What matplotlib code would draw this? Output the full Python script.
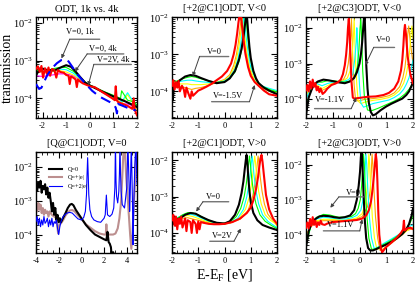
import matplotlib
matplotlib.use('Agg')
import matplotlib.pyplot as plt
import numpy as np
from matplotlib.ticker import MultipleLocator, LogLocator, NullFormatter

plt.rcParams['font.family'] = ['Liberation Serif', 'DejaVu Serif']
plt.rcParams['mathtext.fontset'] = 'custom'
plt.rcParams['mathtext.rm'] = 'Liberation Serif'
plt.rcParams['axes.unicode_minus'] = False

# xmgrace palette
GREEN = '#00ff00'
CYAN = '#00ffff'
YELLOW = '#ffff00'
ORANGE = '#ffa500'
MAGENTA = '#ff00ff'
ROSY = '#bc8f8f'

# ---------- panel 1: ODT, 1k vs. 4k  (values are log10 T) ----------
p1_blue_x = [-2.28, -2.15, -2.05, -1.95, -1.8, -1.6, -1.4, -1.2, -1.05, -0.9, -0.7, -0.5, -0.2, 0.1, 0.4, 0.7, 1.0, 1.1, 1.15, 1.2, 1.4, 1.7, 1.95]
p1_blue_y = [-3.62, -3.75, -3.72, -3.58, -3.38, -3.2, -3.07, -2.98, -2.96, -3.02, -3.2, -3.38, -3.6, -3.8, -3.95, -4.05, -4.15, -4.25, -4.4, -4.15, -4.2, -4.28, -4.32]
p1_black_x = [-2.28, -2.2, -2.0, -1.8, -1.5, -1.2, -1.0, -0.8, -0.6, -0.4, -0.2, 0.0, 0.5, 1.0, 1.5, 2.0]
p1_black_y = [-3.4, -3.3, -3.21, -3.25, -3.26, -3.17, -3.12, -3.16, -3.29, -3.44, -3.58, -3.66, -3.81, -3.95, -4.08, -4.23]
p1_red_x = [-2.28, -2.2, -2.12, -2.05, -1.98, -1.9, -1.82, -1.75, -1.68, -1.6, -1.5, -1.42, -1.35, -1.25, -1.1, -1.0, -0.9, -0.85, -0.8, -0.7, -0.6, -0.55, -0.5, -0.42, -0.3, -0.15, 0.0, 0.2, 0.45, 0.7, 0.95, 1.06, 1.1, 1.14, 1.2, 1.4, 1.6, 1.8, 1.86, 1.9, 2.0]
p1_red_y = [-3.22, -3.15, -3.3, -3.14, -3.45, -3.2, -3.35, -3.18, -3.4, -3.22, -3.25, -3.45, -3.25, -3.3, -3.32, -3.38, -3.4, -3.62, -3.42, -3.45, -3.5, -3.7, -3.5, -3.55, -3.6, -3.64, -3.68, -3.7, -3.8, -3.9, -4.0, -4.05, -3.68, -4.05, -4.1, -4.15, -4.2, -4.28, -4.0, -4.3, -4.45]
p1_mid_x = [-2.28, -2.0, -1.6, -1.3, -1.0, -0.7, -0.4, -0.1, 0.2, 0.6, 1.0, 1.3, 1.35, 1.6, 1.9, 2.0]
p1_green_y = [-3.25, -3.3, -3.22, -3.18, -3.18, -3.28, -3.45, -3.62, -3.7, -3.82, -3.92, -4.0, -3.8, -4.05, -4.1, -4.2]
p1_cyan_y = [-3.3, -3.25, -3.25, -3.22, -3.24, -3.33, -3.48, -3.62, -3.7, -3.84, -3.95, -4.05, -4.1, -3.85, -4.15, -4.25]
p1_yellow_y = [-3.25, -3.28, -3.28, -3.26, -3.3, -3.38, -3.5, -3.64, -3.72, -3.86, -3.98, -4.1, -4.15, -3.9, -4.2, -4.3]
p1_magenta_y = [-3.4, -3.42, -3.38, -3.35, -3.35, -3.4, -3.52, -3.64, -3.72, -3.87, -3.99, -4.1, -4.15, -4.15, -4.22, -4.3]

# ---------- panel 2: [+2@C1]ODT, V<0 ----------
p2_black_x = [-2.0, -1.97, -1.93, -1.85, -1.7, -1.5, -1.3, -1.1, -0.9, -0.6, -0.3, 0.0, 0.2, 0.4, 0.55, 0.65, 0.72, 0.77, 0.81, 0.84, 0.87, 0.9, 0.95, 1.0, 1.1, 1.2, 1.3, 1.5, 1.7, 2.0]
p2_black_y = [-3.95, -4.25, -3.9, -3.8, -3.7, -3.6, -3.56, -3.58, -3.64, -3.72, -3.78, -3.75, -3.65, -3.45, -3.15, -2.85, -2.55, -2.25, -2.05, -1.9, -2.1, -2.4, -2.8, -3.1, -3.45, -3.65, -3.78, -3.9, -3.98, -4.08]
p2_red_x = [-2.0, -1.95, -1.9, -1.85, -1.8, -1.75, -1.7, -1.62, -1.55, -1.5, -1.45, -1.38, -1.3, -1.25, -1.2, -1.1, -1.0, -0.9, -0.7, -0.5, -0.3, -0.1, 0.1, 0.25, 0.35, 0.42, 0.48, 0.53, 0.57, 0.6, 0.63, 0.67, 0.72, 0.8, 0.9, 1.0, 1.15, 1.3, 1.5, 1.7, 2.0]
p2_red_y = [-3.85, -3.7, -3.95, -3.75, -3.9, -3.72, -4.0, -3.85, -3.95, -4.15, -3.9, -4.05, -4.2, -4.0, -4.12, -4.05, -3.98, -3.95, -3.88, -3.8, -3.7, -3.6, -3.45, -3.25, -3.0, -2.75, -2.45, -2.15, -1.95, -1.85, -1.95, -2.25, -2.6, -3.0, -3.35, -3.58, -3.75, -3.85, -3.98, -4.08, -4.12]
p2_green_x = [-2.0, -1.8, -1.6, -1.4, -1.25, -1.1, -0.9, -0.6, -0.3, 0.0, 0.2, 0.4, 0.55, 0.65, 0.72, 0.77, 0.8, 0.83, 0.88, 0.95, 1.05, 1.2, 1.4, 1.7, 2.0]
p2_green_y = [-3.75, -3.72, -3.66, -3.62, -3.6, -3.62, -3.66, -3.72, -3.76, -3.74, -3.65, -3.48, -3.2, -2.9, -2.55, -2.2, -1.95, -2.1, -2.5, -2.95, -3.35, -3.68, -3.85, -3.95, -4.02]
p2_cyan_x = [-2.0, -1.8, -1.6, -1.4, -1.25, -1.1, -0.9, -0.6, -0.3, 0.0, 0.2, 0.4, 0.52, 0.6, 0.67, 0.71, 0.74, 0.77, 0.82, 0.9, 1.0, 1.2, 1.4, 1.7, 2.0]
p2_cyan_y = [-3.72, -3.75, -3.72, -3.7, -3.7, -3.72, -3.74, -3.76, -3.76, -3.72, -3.62, -3.4, -3.1, -2.8, -2.45, -2.15, -1.95, -2.1, -2.5, -2.95, -3.35, -3.7, -3.85, -3.92, -3.98]
p2_yellow_x = [-2.0, -1.8, -1.6, -1.4, -1.25, -1.1, -0.9, -0.6, -0.3, 0.0, 0.2, 0.38, 0.48, 0.56, 0.62, 0.66, 0.69, 0.72, 0.77, 0.85, 0.95, 1.15, 1.4, 1.7, 2.0]
p2_yellow_y = [-3.78, -3.8, -3.8, -3.8, -3.82, -3.82, -3.82, -3.8, -3.76, -3.7, -3.6, -3.35, -3.05, -2.75, -2.4, -2.12, -1.95, -2.1, -2.5, -2.95, -3.32, -3.7, -3.88, -3.95, -4.0]
p2_orange_x = [-2.0, -1.8, -1.6, -1.4, -1.25, -1.1, -0.9, -0.6, -0.3, 0.0, 0.2, 0.35, 0.45, 0.52, 0.58, 0.62, 0.65, 0.68, 0.73, 0.82, 0.92, 1.1, 1.4, 1.7, 2.0]
p2_orange_y = [-3.8, -3.9, -3.88, -3.92, -3.95, -3.92, -3.9, -3.84, -3.76, -3.68, -3.55, -3.3, -3.02, -2.72, -2.38, -2.12, -1.95, -2.1, -2.5, -2.95, -3.3, -3.7, -3.9, -4.0, -4.05]

# ---------- panel 3: [+2@C3]ODT, V<0 ----------
p3_black_x = [-2.0, -1.95, -1.9, -1.8, -1.7, -1.55, -1.35, -1.15, -0.95, -0.75, -0.55, -0.35, -0.2, -0.1, 0.0, 0.06, 0.1, 0.13, 0.16, 0.18, 0.2, 0.22, 0.25, 0.3, 0.35, 0.42, 0.5, 0.6, 0.8, 1.0, 1.2, 1.4, 1.6, 1.75, 1.85, 1.95, 2.0]
p3_black_y = [-4.45, -4.2, -3.95, -3.75, -3.58, -3.5, -3.45, -3.47, -3.5, -3.53, -3.55, -3.5, -3.4, -3.25, -3.0, -2.7, -2.4, -2.1, -1.8, -1.6, -1.8, -2.3, -3.0, -3.7, -4.1, -4.35, -4.45, -4.42, -4.3, -4.2, -4.12, -4.05, -3.98, -3.88, -3.78, -3.62, -3.5]
p3_red_x = [-2.0, -1.95, -1.9, -1.85, -1.8, -1.75, -1.7, -1.65, -1.6, -1.55, -1.5, -1.45, -1.38, -1.3, -1.2, -1.05, -0.9, -0.8, -0.7, -0.62, -0.55, -0.5, -0.46, -0.43, -0.4, -0.37, -0.34, -0.3, -0.25, -0.2, 0.0, 0.3, 0.6, 0.9, 1.1, 1.3, 1.45, 1.55, 1.6, 1.64, 1.67, 1.7, 1.74, 1.8, 1.9, 2.0]
p3_red_y = [-3.75, -3.6, -3.78, -3.5, -3.7, -3.45, -3.65, -3.55, -3.75, -3.65, -3.8, -3.7, -3.85, -3.8, -3.7, -3.6, -3.56, -3.52, -3.45, -3.3, -3.05, -2.75, -2.4, -2.0, -1.75, -2.1, -2.8, -3.5, -3.95, -3.98, -3.96, -3.93, -3.92, -3.88, -3.82, -3.7, -3.5, -3.2, -2.9, -2.5, -2.1, -1.92, -2.2, -2.8, -3.3, -3.55]
p3_orange_x = [-2.0, -1.8, -1.6, -1.4, -1.2, -1.0, -0.8, -0.6, -0.5, -0.42, -0.36, -0.32, -0.3, -0.28, -0.25, -0.2, -0.15, -0.05, 0.2, 0.5, 0.8, 1.1, 1.3, 1.5, 1.62, 1.7, 1.76, 1.8, 1.84, 1.9, 2.0]
p3_orange_y = [-3.8, -3.6, -3.65, -3.75, -3.68, -3.58, -3.52, -3.45, -3.3, -3.0, -2.6, -2.2, -1.75, -2.2, -2.9, -3.6, -4.0, -4.05, -4.0, -3.98, -3.95, -3.9, -3.82, -3.65, -3.4, -3.1, -2.7, -2.2, -1.95, -2.4, -3.0]
p3_yellow_x = [-2.0, -1.8, -1.6, -1.4, -1.2, -1.0, -0.8, -0.6, -0.45, -0.35, -0.28, -0.23, -0.2, -0.18, -0.15, -0.1, -0.05, 0.05, 0.2, 0.5, 0.8, 1.1, 1.3, 1.5, 1.65, 1.75, 1.82, 1.88, 1.92, 1.96, 2.0]
p3_yellow_y = [-3.9, -3.62, -3.6, -3.7, -3.62, -3.55, -3.5, -3.48, -3.4, -3.2, -2.8, -2.3, -1.75, -2.2, -2.9, -3.6, -4.05, -4.12, -4.08, -4.03, -4.0, -3.95, -3.88, -3.75, -3.55, -3.3, -3.0, -2.6, -2.2, -1.95, -2.3]
p3_cyan_x = [-2.0, -1.8, -1.6, -1.4, -1.2, -1.0, -0.8, -0.6, -0.4, -0.25, -0.18, -0.12, -0.1, -0.08, -0.05, 0.0, 0.05, 0.15, 0.3, 0.5, 0.8, 1.1, 1.3, 1.5, 1.65, 1.75, 1.85, 1.92, 2.0]
p3_cyan_y = [-4.0, -3.65, -3.56, -3.62, -3.56, -3.52, -3.5, -3.5, -3.45, -3.3, -2.9, -2.4, -2.0, -2.3, -2.9, -3.6, -4.1, -4.22, -4.18, -4.12, -4.07, -4.02, -3.95, -3.85, -3.72, -3.58, -3.4, -3.2, -2.9]
p3_green_x = [-2.0, -1.8, -1.6, -1.4, -1.2, -1.0, -0.8, -0.6, -0.4, -0.2, -0.08, -0.02, 0.02, 0.05, 0.08, 0.12, 0.18, 0.3, 0.45, 0.7, 1.0, 1.3, 1.5, 1.7, 1.85, 2.0]
p3_green_y = [-4.2, -3.7, -3.52, -3.52, -3.48, -3.48, -3.5, -3.52, -3.5, -3.4, -3.1, -2.6, -2.0, -1.75, -2.3, -3.2, -3.9, -4.3, -4.32, -4.25, -4.15, -4.05, -3.97, -3.85, -3.72, -3.55]

# ---------- panel 4: [Q@C1]ODT, V=0 ----------
p4_q0_x = [-4.0, -3.9, -3.8, -3.7, -3.6, -3.5, -3.4, -3.3, -3.2, -3.1, -3.0, -2.9, -2.8, -2.7, -2.6, -2.5, -2.4, -2.3, -2.2, -2.1, -2.0, -1.9, -1.8, -1.6, -1.4, -1.2, -1.0, -0.85, -0.7, -0.5, -0.3, 0.0, 0.4, 0.8, 1.2, 1.6, 2.0, 2.2, 2.3, 2.4, 2.5, 2.6, 2.7, 2.8, 2.9, 3.0]
p4_q0_y = [-2.5, -2.7, -2.45, -2.6, -2.4, -2.75, -2.55, -2.65, -2.5, -2.8, -2.6, -2.9, -2.75, -3.0, -3.3, -3.05, -3.4, -3.2, -3.55, -3.4, -3.62, -3.5, -3.62, -3.48, -3.35, -3.2, -3.1, -3.08, -3.12, -3.25, -3.35, -3.5, -3.7, -3.85, -3.98, -4.05, -4.12, -4.15, -3.9, -4.2, -4.25, -4.35, -4.7, -4.5, -4.8, -5.0]
p4_q1_x = [-4.0, -3.9, -3.8, -3.7, -3.6, -3.5, -3.4, -3.3, -3.2, -3.1, -3.0, -2.9, -2.8, -2.6, -2.4, -2.2, -2.05, -1.95, -1.8, -1.6, -1.4, -1.2, -1.0, -0.8, -0.6, -0.3, 0.0, 0.4, 0.8, 1.2, 1.6, 2.0, 2.15, 2.2, 2.25, 2.4, 2.6, 2.8, 3.0, 3.2, 3.35, 3.5, 3.6, 3.7, 3.78, 3.85, 3.95, 4.1, 4.2, 4.3, 4.4, 4.5, 4.6, 4.7, 4.8, 4.9]
p4_q1_y = [-3.15, -3.3, -3.05, -3.25, -3.1, -3.35, -3.2, -3.4, -3.25, -3.35, -3.3, -3.45, -3.3, -3.4, -3.45, -3.5, -3.95, -3.7, -3.65, -3.55, -3.42, -3.33, -3.27, -3.26, -3.3, -3.42, -3.52, -3.68, -3.78, -3.88, -3.95, -3.98, -3.98, -3.68, -3.98, -3.98, -3.98, -3.98, -3.95, -3.8, -3.5, -3.0, -2.3, -1.6, -1.3, -1.6, -2.3, -3.0, -3.5, -4.0, -4.4, -4.0, -3.2, -2.6, -1.8, -1.3]
p4_q2_x = [-4.0, -3.9, -3.8, -3.7, -3.6, -3.5, -3.4, -3.3, -3.2, -3.1, -3.0, -2.9, -2.8, -2.7, -2.6, -2.5, -2.4, -2.3, -2.2, -2.1, -2.0, -1.9, -1.8, -1.6, -1.4, -1.2, -1.0, -0.8, -0.6, -0.3, 0.0, 0.2, 0.35, 0.45, 0.5, 0.55, 0.6, 0.65, 0.75, 0.9, 1.1, 1.4, 1.7, 2.0, 2.1, 2.15, 2.2, 2.3, 2.5, 2.7, 2.85, 2.95, 3.0, 3.05, 3.1, 3.2, 3.3, 3.35, 3.4, 3.45, 3.5, 3.6, 3.8, 4.0, 4.1, 4.2, 4.25, 4.3, 4.4, 4.5, 4.55, 4.6, 4.7, 4.8, 4.9]
p4_q2_y = [-3.6, -3.45, -3.7, -3.5, -3.75, -3.55, -3.7, -3.45, -3.65, -3.6, -3.5, -3.75, -3.55, -3.7, -3.5, -3.75, -3.6, -3.65, -3.55, -3.8, -3.98, -3.75, -3.6, -3.45, -3.38, -3.34, -3.33, -3.35, -3.42, -3.52, -3.55, -3.48, -3.3, -2.8, -2.2, -1.72, -2.2, -2.8, -3.25, -3.45, -3.55, -3.6, -3.62, -3.5, -3.4, -3.1, -2.82, -3.4, -3.45, -3.38, -3.2, -2.6, -1.3, -2.4, -2.85, -3.05, -2.7, -2.2, -1.3, -2.2, -2.7, -3.1, -3.2, -2.6, -1.3, -2.5, -3.3, -2.8, -1.3, -3.0, -4.28, -3.4, -2.0, -1.3, -2.5]
p4_labels = ['Q=0', 'Q=+|e|', 'Q=+2|e|']

# ---------- panel 5: [+2@C1]ODT, V>0 ----------
p5_black_x = [-2.0, -1.95, -1.9, -1.85, -1.8, -1.7, -1.5, -1.3, -1.1, -0.9, -0.6, -0.3, 0.0, 0.2, 0.4, 0.55, 0.65, 0.72, 0.77, 0.81, 0.84, 0.87, 0.9, 0.95, 1.0, 1.1, 1.25, 1.45, 1.7, 2.0]
p5_black_y = [-3.6, -3.75, -3.55, -3.8, -3.62, -3.6, -3.5, -3.45, -3.47, -3.55, -3.65, -3.72, -3.74, -3.68, -3.5, -3.22, -2.9, -2.58, -2.25, -2.0, -1.85, -2.05, -2.4, -2.85, -3.15, -3.45, -3.65, -3.78, -3.85, -3.92]
p5_red_x = [-2.0, -1.95, -1.9, -1.85, -1.8, -1.75, -1.7, -1.65, -1.6, -1.5, -1.45, -1.4, -1.3, -1.25, -1.2, -1.1, -1.05, -1.0, -0.95, -0.9, -0.8, -0.6, -0.4, -0.2, 0.0, 0.3, 0.6, 0.85, 1.0, 1.1, 1.2, 1.28, 1.33, 1.37, 1.41, 1.45, 1.5, 1.58, 1.7, 1.85, 2.0]
p5_red_y = [-3.65, -3.5, -3.8, -3.55, -3.9, -3.6, -3.75, -3.55, -3.85, -3.6, -3.95, -3.65, -3.7, -4.0, -3.65, -3.75, -4.0, -3.68, -3.9, -3.7, -3.72, -3.75, -3.76, -3.76, -3.75, -3.7, -3.6, -3.45, -3.3, -3.1, -2.8, -2.45, -2.15, -1.95, -1.85, -2.05, -2.4, -2.95, -3.35, -3.6, -3.75]
p5_green_x = [-2.0, -1.8, -1.6, -1.4, -1.2, -1.0, -0.7, -0.4, -0.1, 0.2, 0.45, 0.62, 0.75, 0.83, 0.89, 0.93, 0.95, 0.98, 1.03, 1.1, 1.2, 1.35, 1.55, 1.8, 2.0]
p5_green_y = [-3.62, -3.6, -3.5, -3.44, -3.45, -3.5, -3.62, -3.7, -3.74, -3.7, -3.55, -3.32, -3.0, -2.65, -2.3, -2.02, -1.88, -2.05, -2.45, -2.85, -3.2, -3.5, -3.68, -3.8, -3.88]
p5_cyan_x = [-2.0, -1.8, -1.6, -1.4, -1.2, -1.0, -0.7, -0.4, -0.1, 0.2, 0.5, 0.72, 0.85, 0.93, 0.99, 1.03, 1.05, 1.08, 1.13, 1.2, 1.3, 1.45, 1.65, 1.85, 2.0]
p5_cyan_y = [-3.62, -3.58, -3.52, -3.48, -3.5, -3.55, -3.65, -3.72, -3.75, -3.72, -3.6, -3.35, -3.0, -2.65, -2.3, -2.02, -1.88, -2.05, -2.45, -2.85, -3.2, -3.5, -3.68, -3.78, -3.85]
p5_yellow_x = [-2.0, -1.8, -1.6, -1.4, -1.2, -1.0, -0.7, -0.4, -0.1, 0.2, 0.55, 0.8, 0.95, 1.03, 1.09, 1.13, 1.15, 1.18, 1.23, 1.3, 1.4, 1.55, 1.75, 1.9, 2.0]
p5_yellow_y = [-3.65, -3.6, -3.55, -3.52, -3.55, -3.6, -3.68, -3.73, -3.76, -3.73, -3.6, -3.35, -3.0, -2.65, -2.3, -2.02, -1.88, -2.05, -2.45, -2.85, -3.2, -3.5, -3.65, -3.72, -3.8]
p5_orange_x = [-2.0, -1.8, -1.6, -1.4, -1.2, -1.0, -0.7, -0.4, -0.1, 0.2, 0.6, 0.9, 1.07, 1.16, 1.22, 1.26, 1.28, 1.31, 1.36, 1.43, 1.52, 1.65, 1.8, 1.9, 2.0]
p5_orange_y = [-3.68, -3.62, -3.6, -3.58, -3.62, -3.65, -3.7, -3.75, -3.76, -3.73, -3.62, -3.38, -3.0, -2.65, -2.3, -2.02, -1.88, -2.05, -2.45, -2.85, -3.2, -3.48, -3.62, -3.7, -3.76]

# ---------- panel 6: [+2@C3]ODT, V>0 ----------
p6_black_x = [-2.0, -1.95, -1.9, -1.8, -1.65, -1.5, -1.35, -1.15, -0.95, -0.75, -0.55, -0.35, -0.2, -0.1, -0.03, 0.02, 0.05, 0.08, 0.1, 0.12, 0.15, 0.2, 0.25, 0.32, 0.4, 0.5, 0.6, 0.8, 1.0, 1.2, 1.4, 1.6, 1.75, 1.85, 1.95, 2.0]
p6_black_y = [-4.35, -4.15, -3.9, -3.7, -3.55, -3.48, -3.46, -3.47, -3.5, -3.52, -3.5, -3.45, -3.3, -3.0, -2.6, -2.2, -1.8, -1.6, -1.8, -2.2, -2.8, -3.6, -4.1, -4.38, -4.45, -4.45, -4.42, -4.35, -4.28, -4.2, -4.1, -3.98, -3.85, -3.7, -3.45, -3.25]
p6_red_x = [-2.0, -1.95, -1.9, -1.85, -1.8, -1.75, -1.7, -1.65, -1.6, -1.55, -1.5, -1.45, -1.4, -1.3, -1.2, -1.0, -0.7, -0.4, -0.1, 0.1, 0.25, 0.35, 0.43, 0.49, 0.54, 0.58, 0.61, 0.64, 0.67, 0.7, 0.74, 0.8, 0.85, 0.9, 1.0, 1.2, 1.4, 1.55, 1.63, 1.66, 1.69, 1.72, 1.8, 1.9, 2.0]
p6_red_y = [-3.8, -3.65, -3.82, -3.55, -3.75, -3.5, -3.72, -3.6, -3.78, -3.65, -3.72, -3.6, -3.7, -3.72, -3.68, -3.64, -3.62, -3.6, -3.58, -3.54, -3.45, -3.3, -3.05, -2.7, -2.3, -1.95, -1.7, -1.9, -2.5, -3.3, -4.0, -4.4, -4.5, -4.45, -4.35, -4.22, -4.08, -3.95, -3.85, -3.6, -3.88, -3.86, -3.82, -3.8, -3.84]
p6_green_x = [-2.0, -1.8, -1.6, -1.35, -1.1, -0.8, -0.5, -0.3, -0.15, -0.05, 0.03, 0.08, 0.12, 0.15, 0.18, 0.22, 0.28, 0.35, 0.45, 0.6, 0.8, 1.1, 1.4, 1.7, 1.9, 2.0]
p6_green_y = [-4.3, -3.7, -3.5, -3.42, -3.44, -3.5, -3.5, -3.48, -3.4, -3.25, -3.0, -2.6, -2.1, -1.7, -2.0, -2.7, -3.5, -4.1, -4.42, -4.4, -4.32, -4.2, -4.05, -3.88, -3.65, -3.45]
p6_cyan_x = [-2.0, -1.8, -1.6, -1.35, -1.1, -0.8, -0.5, -0.3, -0.1, 0.05, 0.12, 0.17, 0.21, 0.24, 0.27, 0.31, 0.37, 0.45, 0.55, 0.7, 0.9, 1.2, 1.5, 1.7, 1.9, 2.0]
p6_cyan_y = [-4.2, -3.72, -3.55, -3.5, -3.52, -3.55, -3.55, -3.52, -3.45, -3.3, -3.05, -2.65, -2.15, -1.7, -2.0, -2.7, -3.5, -4.1, -4.4, -4.35, -4.25, -4.12, -3.98, -3.85, -3.75, -3.72]
p6_yellow_x = [-2.0, -1.8, -1.6, -1.35, -1.1, -0.8, -0.5, -0.3, -0.1, 0.1, 0.22, 0.28, 0.32, 0.35, 0.38, 0.42, 0.48, 0.56, 0.65, 0.8, 1.0, 1.3, 1.55, 1.75, 1.9, 2.0]
p6_yellow_y = [-4.1, -3.75, -3.6, -3.56, -3.56, -3.58, -3.58, -3.56, -3.52, -3.4, -3.1, -2.7, -2.2, -1.7, -2.0, -2.7, -3.5, -4.1, -4.42, -4.38, -4.28, -4.15, -4.02, -3.9, -3.82, -3.8]
p6_orange_x = [-2.0, -1.8, -1.6, -1.35, -1.1, -0.8, -0.5, -0.3, -0.1, 0.1, 0.3, 0.4, 0.44, 0.47, 0.5, 0.54, 0.6, 0.68, 0.77, 0.9, 1.1, 1.35, 1.6, 1.75, 1.9, 2.0]
p6_orange_y = [-4.0, -3.75, -3.62, -3.6, -3.6, -3.6, -3.6, -3.58, -3.55, -3.48, -3.2, -2.75, -2.2, -1.7, -2.0, -2.7, -3.5, -4.1, -4.45, -4.4, -4.3, -4.15, -4.0, -3.88, -3.85, -3.82]

titles = ['ODT, 1k vs. 4k', '[+2@C1]ODT, V<0', '[+2@C3]ODT, V<0',
          '[Q@C1]ODT, V=0', '[+2@C1]ODT, V>0', '[+2@C3]ODT, V>0']


def line(ax, x, ly, color, lw=0.8, ls='-', z=2, label=None):
  ax.plot(x, 10 ** np.array(ly), color=color, lw=lw, ls=ls, zorder=z, label=label)


def note(ax, text, tx, ty, ux0, ux1, uy, px, py, start='left'):
  # xmgrace style label: text, a grey underline and a pointer line
  ax.text(tx, 10 ** ty, text, fontsize=6, ha='center', va='center', zorder=10)
  ax.annotate('', xy=(ux1, 10 ** uy), xytext=(ux0, 10 ** uy),
              arrowprops=dict(arrowstyle='-', color='0.45', lw=1.0, shrinkA=0, shrinkB=0), zorder=10)
  sx = ux0 if start == 'left' else ux1
  ax.annotate('', xy=(px, 10 ** py), xytext=(sx, 10 ** uy),
              arrowprops=dict(arrowstyle='-|>', color='0.25', lw=0.7, mutation_scale=5,
                              shrinkA=0, shrinkB=0), zorder=10)


W, H = 415.0, 285.0
fig = plt.figure(figsize=(4.15, 2.85), dpi=100)
cols = [(36, 137), (172, 277), (306, 413)]
rows = [(17, 118), (152, 253)]
axes = []
for r in rows:
  for c in cols:
    ax = fig.add_axes([c[0] / W, 1 - r[1] / H, (c[1] - c[0]) / W, (r[1] - r[0]) / H])
    axes.append(ax)

ylims = [(3e-5, 1.45e-2), (1.9e-5, 1.02e-2), (3e-5, 2e-2),
         (3e-5, 2.8e-2), (2.8e-5, 1.7e-2), (3e-5, 2.3e-2)]

for i, ax in enumerate(axes):
  ax.set_yscale('log')
  ax.set_ylim(*ylims[i])
  if i == 3:
    ax.set_xlim(-4, 4.9)
    ax.xaxis.set_major_locator(MultipleLocator(2))
    ax.xaxis.set_minor_locator(MultipleLocator(0.5))
  else:
    ax.set_xlim(-2, 2)
    ax.xaxis.set_major_locator(MultipleLocator(1))
    ax.xaxis.set_minor_locator(MultipleLocator(0.2))
  ax.yaxis.set_major_locator(LogLocator(base=10, numticks=10))
  ax.yaxis.set_minor_locator(LogLocator(base=10, subs=np.arange(2, 10), numticks=20))
  ax.yaxis.set_minor_formatter(NullFormatter())
  ax.tick_params(which='both', direction='in', top=True, right=True)
  ax.tick_params(which='major', length=4, width=0.8)
  ax.tick_params(which='minor', length=2, width=0.6)
  ax.tick_params(axis='x', labelsize=6, pad=3)
  ax.tick_params(axis='y', labelsize=7.5, pad=2)
  for s in ax.spines.values():
    s.set_linewidth(1.0)
  ax.set_title(titles[i], fontsize=7.5, pad=4)

axes[0].set_xlim(-2.28, 2)

# panel 1
ax = axes[0]
line(ax, p1_mid_x, p1_magenta_y, MAGENTA)
line(ax, p1_mid_x, p1_yellow_y, YELLOW)
line(ax, p1_mid_x, p1_cyan_y, CYAN)
line(ax, p1_mid_x, p1_green_y, GREEN)
line(ax, p1_black_x, p1_black_y, 'black', lw=1.5, z=3)
line(ax, p1_red_x, p1_red_y, 'red', lw=1.5, z=4)
line(ax, p1_blue_x, p1_blue_y, 'blue', lw=1.5, ls=(0, (5, 3)), z=5)
note(ax, 'V=0, 1k', -0.42, -2.24, -0.85, 0.42, -2.43, -1.2, -2.94)
note(ax, 'V=0, 4k', 0.54, -2.68, -0.11, 1.44, -2.82, -0.63, -3.29)
note(ax, 'V=2V, 4k', 0.99, -2.98, 0.17, 1.76, -3.10, -0.07, -3.66)
ax.set_ylabel('transmission', fontsize=10)
ax.yaxis.set_label_coords(-0.22, 0.5)

# panel 2
ax = axes[1]
line(ax, p2_orange_x, p2_orange_y, ORANGE)
line(ax, p2_yellow_x, p2_yellow_y, YELLOW)
line(ax, p2_cyan_x, p2_cyan_y, CYAN)
line(ax, p2_green_x, p2_green_y, GREEN)
line(ax, p2_black_x, p2_black_y, 'black', lw=1.5, z=3)
line(ax, p2_red_x, p2_red_y, 'red', lw=1.5, z=4)
note(ax, 'V=0', -0.37, -2.93, -0.95, 0.16, -3.06, -1.21, -3.59)
note(ax, 'V=-1.5V', 0.12, -4.13, -0.49, 0.95, -4.28, 1.15, -3.83, start='right')

# panel 3
ax = axes[2]
line(ax, p3_orange_x, p3_orange_y, ORANGE)
line(ax, p3_yellow_x, p3_yellow_y, YELLOW)
line(ax, p3_cyan_x, p3_cyan_y, CYAN)
line(ax, p3_green_x, p3_green_y, GREEN)
line(ax, p3_black_x, p3_black_y, 'black', lw=1.5, z=3)
line(ax, p3_red_x, p3_red_y, 'red', lw=1.5, z=4)
note(ax, 'V=0', 0.88, -2.33, 0.53, 1.31, -2.55, 0.21, -3.05)
note(ax, 'V=-1.1V', -1.09, -4.03, -1.68, -0.31, -4.26, -0.12, -3.95, start='right')

# panel 4
ax = axes[3]
line(ax, p4_q0_x, p4_q0_y, 'black', lw=1.5, z=3, label=p4_labels[0])
line(ax, p4_q1_x, p4_q1_y, ROSY, lw=1.5, z=2, label=p4_labels[1])
line(ax, p4_q2_x, p4_q2_y, 'blue', lw=0.8, z=4, label=p4_labels[2])
ax.legend(loc='upper left', bbox_to_anchor=(0.1, 0.88), fontsize=4.5, frameon=False,
          handlelength=2.2, labelspacing=0.5, borderaxespad=0)

# panel 5
ax = axes[4]
line(ax, p5_orange_x, p5_orange_y, ORANGE)
line(ax, p5_yellow_x, p5_yellow_y, YELLOW)
line(ax, p5_cyan_x, p5_cyan_y, CYAN)
line(ax, p5_green_x, p5_green_y, GREEN)
line(ax, p5_black_x, p5_black_y, 'black', lw=1.5, z=3)
line(ax, p5_red_x, p5_red_y, 'red', lw=1.5, z=4)
note(ax, 'V=0', -0.43, -3.0, -0.82, 0.16, -3.14, -1.08, -3.41)
note(ax, 'V=2V', -0.1, -4.09, -0.56, 0.36, -4.23, 0.62, -3.88, start='right')
ax.set_xlabel('E-E$_\\mathrm{F}$ [eV]', fontsize=10, labelpad=1)

# panel 6
ax = axes[5]
line(ax, p6_orange_x, p6_orange_y, ORANGE)
line(ax, p6_yellow_x, p6_yellow_y, YELLOW)
line(ax, p6_cyan_x, p6_cyan_y, CYAN)
line(ax, p6_green_x, p6_green_y, GREEN)
line(ax, p6_black_x, p6_black_y, 'black', lw=1.5, z=3)
line(ax, p6_red_x, p6_red_y, 'red', lw=1.5, z=4)
note(ax, 'V=0', -0.22, -2.8, -0.77, 0.14, -2.92, -1.09, -3.23)
note(ax, 'V=1.1V', -0.7, -3.73, -1.35, 0.01, -3.89, 0.1, -3.56, start='right')

fig.savefig('out.png', dpi=100)
